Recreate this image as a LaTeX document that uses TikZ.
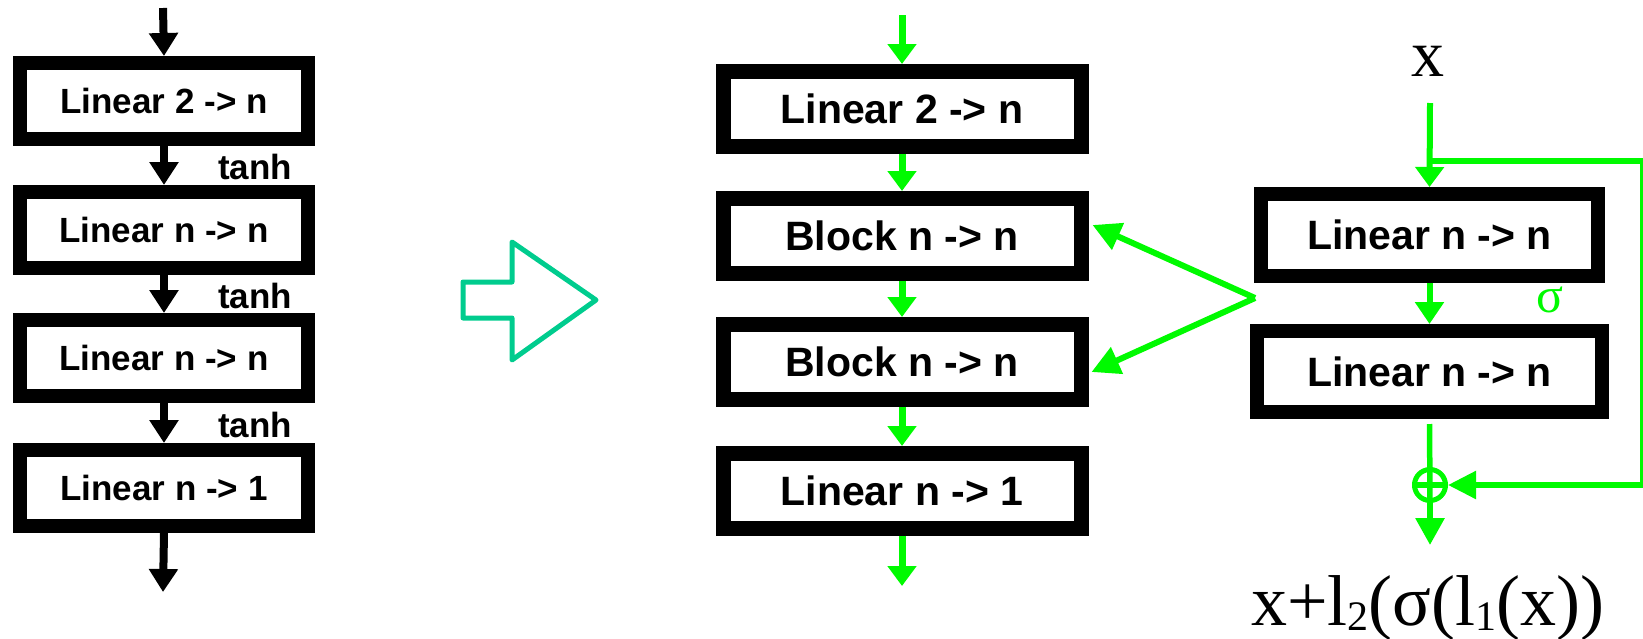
\documentclass[tikz,border=0pt]{standalone}
\usepackage{fontspec}
\setmainfont{Liberation Sans}
\newfontfamily\seriffont{Liberation Serif}
\usetikzlibrary{arrows.meta,calc}
\definecolor{grn}{RGB}{0,250,0}
\definecolor{tealarrow}{RGB}{0,204,142}
\begin{document}
\begin{tikzpicture}[x=1pt,y=-1pt,
  lbox/.style={draw=black,line width=14pt,fill=white,inner sep=0pt,outer sep=7pt,
    minimum width=288pt,minimum height=76pt,font=\fontsize{35}{40}\selectfont\bfseries},
  mbox/.style={draw=black,line width=15pt,fill=white,inner sep=0pt,outer sep=7.5pt,
    minimum width=358pt,minimum height=75pt,font=\fontsize{41}{48}\selectfont\bfseries},
  rbox/.style={draw=black,line width=14pt,fill=white,inner sep=0pt,outer sep=7pt,
    font=\fontsize{41}{48}\selectfont\bfseries},
  lbl/.style={font=\fontsize{35}{40}\selectfont\bfseries},
  barr/.style={draw=black,line width=8pt,-{Triangle[length=23pt,width=28pt]}},
  garr/.style={color=grn,line width=7pt,-{Triangle[length=20pt,width=28pt]}},
  rarr/.style={color=grn,line width=6pt,-{Triangle[length=22pt,width=28pt]}},
  sarr/.style={color=grn,line width=6pt,-{Triangle[length=28pt,width=28pt]}},
  gline/.style={color=grn,line width=5.5pt}
]
\useasboundingbox (0,0) rectangle (1643,638);

% left column
\node[lbox] (L1) at (164,101) {Linear 2 -> n};
\node[lbox] (L2) at (164,230) {Linear n -> n};
\node[lbox] (L3) at (164,358) {Linear n -> n};
\node[lbox] (L4) at (164,488) {Linear n -> 1};
\coordinate (Ltop) at (163,8);
\coordinate (Lbot) at (163,592);
\draw[barr] (Ltop) -- (L1.north);
\draw[barr] (L1.south) -- (L2.north);
\draw[barr] (L2.south) -- (L3.north);
\draw[barr] (L3.south) -- (L4.north);
\draw[barr] (L4.south) -- (Lbot);
\node[lbl] (t1) at (255,167) {tanh};
\node[lbl] (t2) at (255,296) {tanh};
\node[lbl] (t3) at (255,425) {tanh};

% big teal arrow
\draw[tealarrow,line width=5pt,line join=round]
  (463,282) -- (512,282) -- (512,242) -- (596,300) -- (512,360) -- (512,318) -- (463,318) -- cycle;

% middle column
\node[mbox] (M1) at (902,109) {Linear 2 -> n};
\node[mbox] (M2) at (902,236) {Block n -> n};
\node[mbox] (M3) at (902,362) {Block n -> n};
\node[mbox] (M4) at (902,491) {Linear n -> 1};
\coordinate (Mtop) at (902,15);
\coordinate (Mbot) at (902,586);
\draw[garr] (Mtop) -- (M1.north);
\draw[garr] (M1.south) -- (M2.north);
\draw[garr] (M2.south) -- (M3.north);
\draw[garr] (M3.south) -- (M4.north);
\draw[garr] (M4.south) -- (Mbot);

% right column
\node[rbox,minimum width=337pt,minimum height=82pt] (R1) at (1429.5,235) {Linear n -> n};
\node[rbox,minimum width=345pt,minimum height=81pt] (R2) at (1429.5,371.5) {Linear n -> n};
\node[anchor=base,inner sep=0pt,font=\seriffont\fontsize{66}{70}\selectfont] (xin) at (1428,76) {x};
\coordinate (xstart) at (1430,103);
\coordinate (br) at (1430,161);
\coordinate (c1) at (1643,161);
\coordinate (c2) at (1643,485);
\draw[rarr,-{Triangle[length=20pt,width=28pt]}] (xstart) -- (R1.north);
\draw[rarr] (R1.south) -- (R2.north);
\node[inner sep=0pt,text=grn,font=\seriffont\fontsize{50}{52}\selectfont] (sig) at (1550,300) {σ};

\node[circle,draw=grn,line width=5pt,minimum size=31pt,inner sep=0pt,outer sep=2.5pt] (plus) at (1430,485) {};
\draw[gline] (plus.west) -- (plus.east);
\draw[gline,shorten <=5pt] (R2.south) -- (plus.south);
\coordinate (Rbot) at (1430,545);
\draw[rarr,-{Triangle[length=27pt,width=28pt]}] (plus.south) -- (Rbot);
\draw[gline,line join=miter,-{Triangle[length=28pt,width=27pt]}] (br) -- (c1) -- (c2) -- (plus.east);

\node[anchor=base,inner sep=0pt,font=\seriffont\fontsize{72}{80}\selectfont] (formula) at (1428,625)
  {x+l\raisebox{-5pt}{\fontsize{42}{42}\selectfont 2}(σ(l\raisebox{-5pt}{\fontsize{42}{42}\selectfont 1}(x))};

% fork arrows to the blocks
\coordinate (fork) at (1255,298);
\draw[sarr] (fork) -- ($(M2.east)+(4,-11)$);
\draw[sarr] (fork) -- ($(M3.east)+(3,10)$);
\end{tikzpicture}
\end{document}
